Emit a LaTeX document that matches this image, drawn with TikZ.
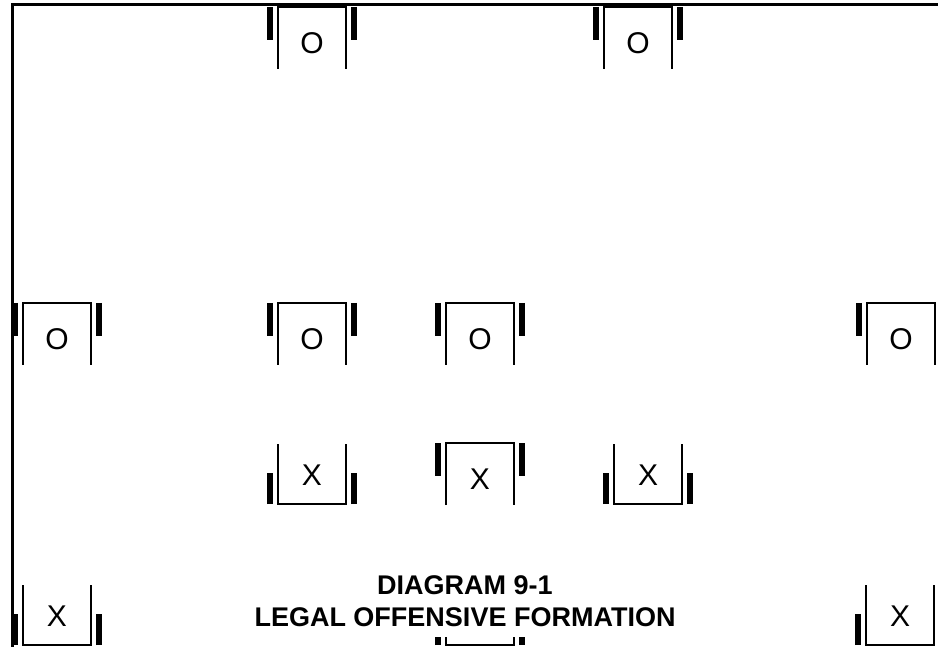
\documentclass[tikz,border=0pt]{standalone}
\usepackage{fontspec}
\setmainfont{Liberation Sans}
\begin{document}
\begin{tikzpicture}
        [x=1pt,y=-1pt,
         player_style/.style={inner sep=0pt,font=\fontsize{30}{30}\selectfont},
         box_style/.style={draw=black,line width=2pt},
         bar_style/.style={draw=black,line width=6pt},
         frame_style/.style={draw=black,line width=3pt},
         title_style/.style={fill=white,align=center,inner sep=0pt,
           font=\fontsize{27}{32}\selectfont\bfseries,
           minimum width=452pt,minimum height=72pt}]
            \useasboundingbox (0,0) rectangle (938,647);
            \clip (0,0) rectangle (938,647);
            \draw[frame_style] (12,647) -- (12,5) -- (938,5);
            % offense
            \node[player_style] (o1) at (312,43)  {O};
            \node[player_style] (o2) at (638,43)  {O};
            \node[player_style] (o3) at (57,339)  {O};
            \node[player_style] (o4) at (312,339) {O};
            \node[player_style] (o5) at (480,339) {O};
            \node[player_style] (o6) at (901,339) {O};
            \node[player_style] (c1) at (480,479) {X};
            % defense
            \node[player_style] (x1) at (312,475) {X};
            \node[player_style] (x2) at (648,475) {X};
            \node[player_style] (x3) at (57,616)  {X};
            \coordinate (x4) at (480,616);
            \node[player_style] (x5) at (900,616) {X};
            \foreach \p in {o1,o2,o3,o4,o5,o6,c1} {
                \draw[box_style] ([shift={(-34,26)}]\p.center) -- ++(0,-62) -- ++(68,0) -- ++(0,62);
                \draw[bar_style] ([shift={(-42,-36)}]\p.center) -- ++(0,33);
                \draw[bar_style] ([shift={(42,-36)}]\p.center) -- ++(0,33);
            }
            \foreach \p in {x1,x2,x3,x4,x5} {
                \draw[box_style] ([shift={(-34,-31)}]\p.center) -- ++(0,60) -- ++(68,0) -- ++(0,-60);
                \draw[bar_style] ([shift={(-42,29)}]\p.center) -- ++(0,-31);
                \draw[bar_style] ([shift={(42,29)}]\p.center) -- ++(0,-31);
            }
            \node[title_style] (title) at (465,601) {DIAGRAM 9-1\\LEGAL OFFENSIVE FORMATION};
        \end{tikzpicture}
\end{document}
